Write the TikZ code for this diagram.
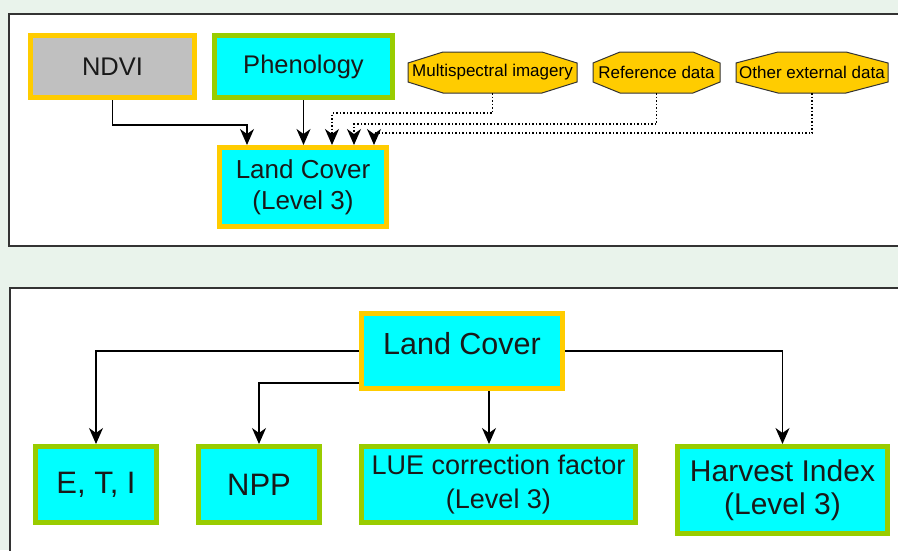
\documentclass[tikz,border=0pt]{standalone}
\usepackage{fontspec}
\setmainfont{Liberation Sans}
\usepackage{xcolor}
\usepackage{tikz}
\usetikzlibrary{positioning,arrows.meta,calc}
\definecolor{backgreen}{HTML}{E9F3EB}
\definecolor{paneledge}{HTML}{333333}
\definecolor{boxyellow}{HTML}{FFCC00}
\definecolor{boxgreen}{HTML}{99CC00}
\definecolor{boxcyan}{HTML}{00FFFF}
\definecolor{boxgray}{HTML}{C0C0C0}
\pgfdeclarelayer{back}
\pgfsetlayers{back,main}

\begin{document}
\begin{tikzpicture}[
    x=1pt, y=-1pt,
    yellowbox/.style={draw=boxyellow, fill=boxcyan, line width=5pt, inner sep=0pt, align=center, text=black!90},
    greenbox/.style={draw=boxgreen, fill=boxcyan, line width=5pt, inner sep=0pt, align=center, text=black!90},
    datanode/.style={inner sep=0pt, outer sep=0pt, minimum height=41pt, font=\fontsize{17}{20}\selectfont},
    panel/.style={fill=white, draw=paneledge, line width=1.5pt},
    arrow/.style={-{Stealth[length=16pt,width=14pt,inset=5pt]}, line width=1.5pt},
    dataarrow/.style={arrow, dotted},
  ]
  \useasboundingbox (0,0) rectangle (898,550);
  \begin{pgfonlayer}{back}
    \fill[backgreen] (0,0) rectangle (898,550);
    \clip (0,0) rectangle (898,550);
    \draw[panel] (9,14) rectangle (910,246);
    \draw[panel] (10,288) rectangle (910,570);
  \end{pgfonlayer}

  % Land cover classification
  \node[yellowbox, fill=boxgray, minimum width=164pt, minimum height=62pt, font=\fontsize{25.5}{30}\selectfont] (ndvi) at (112.5,66.5) {NDVI};
  \node[greenbox, minimum width=178pt, minimum height=62pt, font=\fontsize{25.5}{30}\selectfont] (phen) at (303.5,66.5) {Phenology};
  \node[yellowbox, minimum width=167pt, minimum height=79pt, font=\fontsize{26}{31}\selectfont] (lc3) at (303,187) {Land Cover\\(Level 3)};

  \node[datanode, minimum width=169pt] (msi) at (492.5,72.5) {Multispectral imagery};
  \node[datanode, minimum width=127pt] (ref) at (656.5,72.5) {Reference data};
  \node[datanode, minimum width=152pt] (ext) at (812,72.5) {Other external data};
  \begin{pgfonlayer}{back}
    \foreach \n/\c in {msi/35,ref/27,ext/42}
      \draw[fill=boxyellow, draw=black!80, line width=1pt]
        ($(\n.north west)+(\c,0)$) -- ($(\n.north east)+(-\c,0)$) -- ($(\n.north east)+(0,11)$) --
        ($(\n.south east)+(0,-11)$) -- ($(\n.south east)+(-\c,0)$) -- ($(\n.south west)+(\c,0)$) --
        ($(\n.south west)+(0,-11)$) -- ($(\n.north west)+(0,11)$) -- cycle;
  \end{pgfonlayer}

  \draw[arrow] (ndvi.south) -- ++(0,25) -| ([xshift=-56pt]lc3.north);
  \draw[arrow] (phen.south) -- (phen.south |- lc3.north);
  \draw[dataarrow] (msi.south) -- ++(0,20) -| ([xshift=29pt]lc3.north);
  \draw[dataarrow] (ref.south) -- ++(0,31) -| ([xshift=51pt]lc3.north);
  \draw[dataarrow] (ext.south) -- ++(0,40) -| ([xshift=71pt]lc3.north);

  % Land cover products
  \node[yellowbox, minimum width=201pt, minimum height=75pt, text depth=16pt, font=\fontsize{30.5}{36}\selectfont] (lc) at (462,351) {Land Cover};
  \node[greenbox, minimum width=121pt, minimum height=76pt, font=\fontsize{31}{37}\selectfont] (eti) at (96,484.5) {E, T, I};
  \node[greenbox, minimum width=121pt, minimum height=76pt, font=\fontsize{31}{37}\selectfont] (npp) at (259,484.5) {NPP};
  \node[greenbox, minimum width=274pt, minimum height=76pt, font=\fontsize{27}{34}\selectfont] (lue) at (498.5,484.5) {LUE correction factor\\(Level 3)};
  \node[greenbox, minimum width=210pt, minimum height=87pt, font=\fontsize{30}{33}\selectfont] (hi) at (782.5,490) {Harvest Index\\(Level 3)};

  \draw[arrow] (lc.west) -| (eti.north);
  \draw[arrow] ([yshift=-32pt]lc.west) -| (npp.north);
  \draw[arrow] ([xshift=27pt]lc.south) -- ([xshift=27pt]lc.south |- lue.north);
  \draw[arrow] (lc.east) -| (hi.north);
\end{tikzpicture}
\end{document}
